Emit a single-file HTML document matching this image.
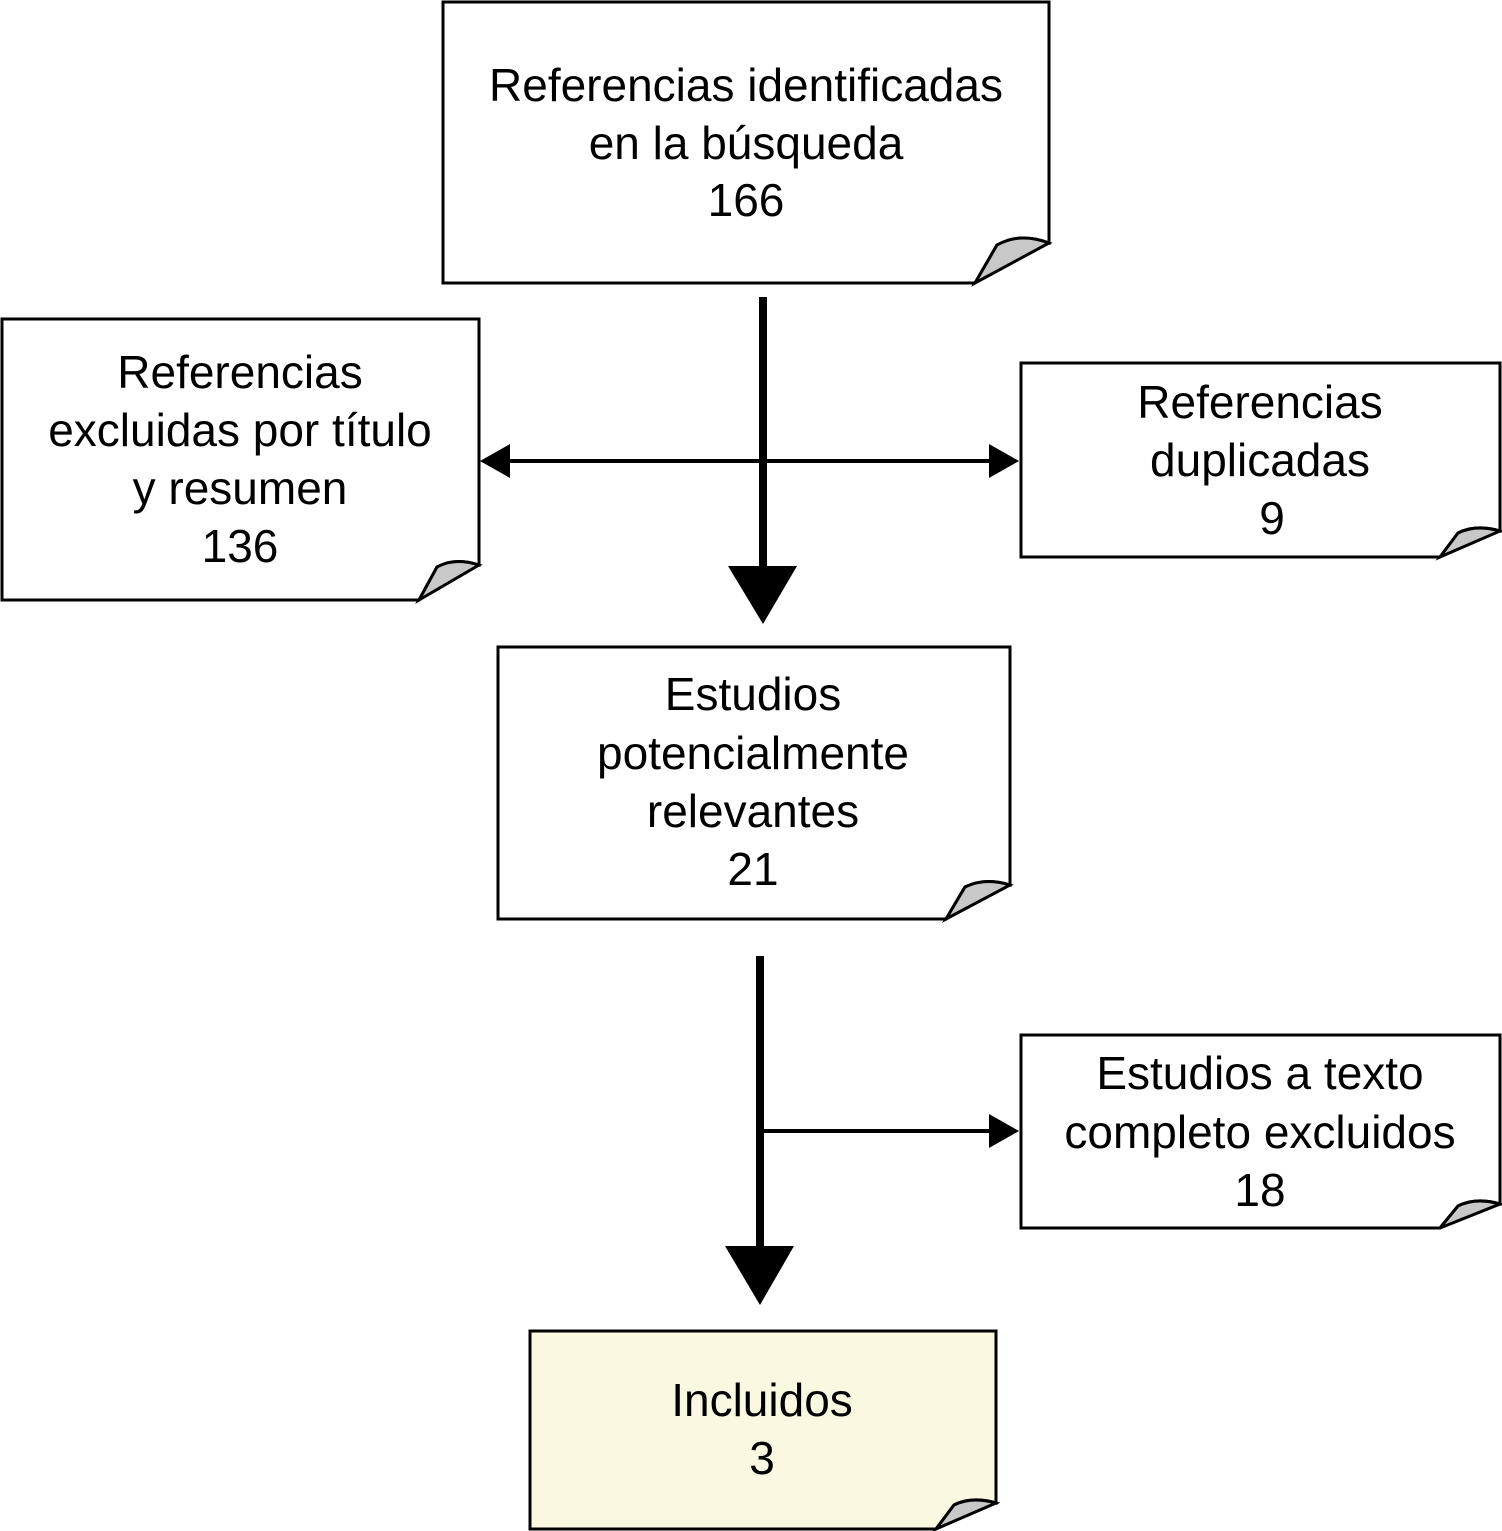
<!DOCTYPE html>
<html><head><meta charset="utf-8"><style>html,body{margin:0;padding:0;background:#fff}svg{display:block}</style></head>
<body>
<svg width="1502" height="1531" viewBox="0 0 1502 1531" xmlns="http://www.w3.org/2000/svg">
<g stroke="#000" stroke-width="3" stroke-linejoin="miter">
<path d="M443,2 H1049 V243 Q1020,232 997,245 L975,283 H443 Z" fill="#fff"/>
<path d="M997,245 L975,283 L1049,243 Q1020,232 997,245 Z" fill="#c8c8c8"/>
<path d="M2,319 H479 V565 Q455,557 437,567 L419,600 H2 Z" fill="#fff"/>
<path d="M437,567 L419,600 L479,565 Q455,557 437,567 Z" fill="#c8c8c8"/>
<path d="M1021,363 H1500 V531 Q1476,524 1458,533 L1440,557 H1021 Z" fill="#fff"/>
<path d="M1458,533 L1440,557 L1500,531 Q1476,524 1458,533 Z" fill="#c8c8c8"/>
<path d="M498,647 H1010 V885 Q985,877 965,887 L946,919 H498 Z" fill="#fff"/>
<path d="M965,887 L946,919 L1010,885 Q985,877 965,887 Z" fill="#c8c8c8"/>
<path d="M1021,1035 H1500 V1204 Q1476,1197 1458,1206 L1440,1228 H1021 Z" fill="#fff"/>
<path d="M1458,1206 L1440,1228 L1500,1204 Q1476,1197 1458,1206 Z" fill="#c8c8c8"/>
<path d="M530,1331 H996 V1503 Q972,1496 954,1505 L936,1529 H530 Z" fill="#faf8e0"/>
<path d="M954,1505 L936,1529 L996,1503 Q972,1496 954,1505 Z" fill="#c8c8c8"/>
</g>
<g stroke="#000" fill="none">
<line x1="763" y1="297" x2="763" y2="572" stroke-width="8"/>
<line x1="505" y1="461" x2="995" y2="461" stroke-width="4"/>
<line x1="760" y1="956" x2="760" y2="1252" stroke-width="8"/>
<line x1="760" y1="1131" x2="995" y2="1131" stroke-width="4"/>
</g>
<g fill="#000">
<polygon points="728,566 797,566 763,624"/>
<polygon points="480,461 510,444 510,478"/>
<polygon points="1019,461 989,444 989,478"/>
<polygon points="725,1246 794,1246 760,1305"/>
<polygon points="1019,1131 989,1114 989,1148"/>
</g>
<g font-family="'Liberation Sans', Arial, sans-serif" font-size="46" text-anchor="middle" fill="#000">
<text x="746" y="101">Referencias identificadas</text>
<text x="746" y="159">en la búsqueda</text>
<text x="746" y="216">166</text>
<text x="240" y="388">Referencias</text>
<text x="240" y="446">excluidas por título</text>
<text x="240" y="504">y resumen</text>
<text x="240" y="562">136</text>
<text x="1260" y="418">Referencias</text>
<text x="1260" y="476">duplicadas</text>
<text x="1272" y="534">9</text>
<text x="753" y="710">Estudios</text>
<text x="753" y="769">potencialmente</text>
<text x="753" y="827">relevantes</text>
<text x="753" y="885">21</text>
<text x="1260" y="1089">Estudios a texto</text>
<text x="1260" y="1148">completo excluidos</text>
<text x="1260" y="1206">18</text>
<text x="762" y="1416">Incluidos</text>
<text x="762" y="1474">3</text>
</g>
</svg>
</body></html>
